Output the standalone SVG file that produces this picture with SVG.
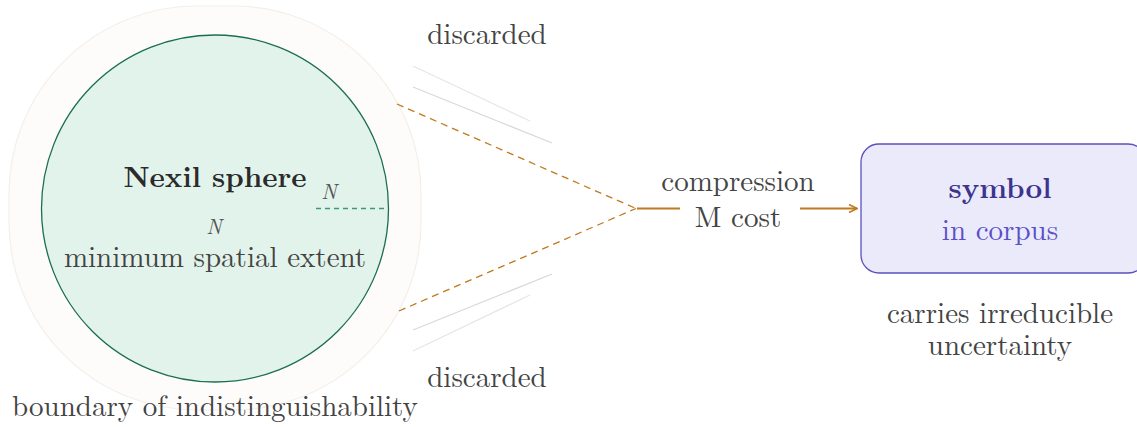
<svg xmlns="http://www.w3.org/2000/svg" width="1137" height="427" viewBox="0 0 1137 427">
  <defs>
    <marker id="arrow" viewBox="0 0 10 10" refX="9" refY="5" markerWidth="10" markerHeight="10" markerUnits="userSpaceOnUse" orient="auto">
      <path d="M1,1 L9,5 L1,9" fill="none" stroke="#c07a1e" stroke-width="1.6"/>
    </marker>
  </defs>
  <style>
    .lbl { font-size: 29px; fill: #444; }
    .ital { font-style: italic; font-size: 21px; fill: #555; }
    .faint { stroke: #d9d9d9; stroke-width: 1.3; fill: none; }
    .fainter { stroke: #e6e6e6; stroke-width: 1.3; fill: none; }
    .flow { stroke: #c07a1e; stroke-width: 1.3; fill: none; stroke-dasharray: 7 5; }
  </style>
  <rect width="1137" height="427" fill="#ffffff"/>

  <g font-family="Latin Modern Roman, Liberation Serif, serif">
    <!-- outer halo: region of indistinguishability -->
    <g id="halo">
      <rect x="9" y="6" width="412" height="404" rx="188" ry="188" fill="#fdfcfb" stroke="#f3efea" stroke-width="1.2"/>
      <text class="lbl" x="215" y="416" text-anchor="middle">boundary of indistinguishability</text>
    </g>

    <!-- core sphere -->
    <g id="sphere">
      <circle cx="215" cy="208.5" r="173.5" fill="#e2f3eb" stroke="#1a6e52" stroke-width="1.3"/>
      <text x="215" y="187" text-anchor="middle" font-size="29" font-weight="bold" fill="#2b2b2b">Nexil sphere</text>
      <line x1="316" y1="208.5" x2="387" y2="208.5" stroke="#3a9a78" stroke-width="1.3" stroke-dasharray="5 4"/>
      <text class="ital" x="329" y="199" text-anchor="middle">N</text>
      <text class="ital" x="214" y="234" text-anchor="middle">N</text>
      <text class="lbl" x="215" y="267" text-anchor="middle">minimum spatial extent</text>
    </g>

    <!-- discarded fragments -->
    <g id="discarded-top">
      <text class="lbl" x="487" y="44" text-anchor="middle">discarded</text>
      <line class="fainter" x1="413" y1="66" x2="530" y2="121"/>
      <line class="faint" x1="413" y1="87" x2="552" y2="143"/>
    </g>
    <g id="discarded-bottom">
      <text class="lbl" x="487" y="387" text-anchor="middle">discarded</text>
      <line class="faint" x1="413" y1="330" x2="552" y2="274"/>
      <line class="fainter" x1="413" y1="351" x2="530" y2="295"/>
    </g>

    <!-- compression connectors -->
    <g id="connectors">
      <line class="flow" x1="397" y1="104" x2="636" y2="208.5"/>
      <line class="flow" x1="399" y1="311" x2="636" y2="208.5"/>
      <line x1="637" y1="208.5" x2="680" y2="208.5" stroke="#c07a1e" stroke-width="2"/>
      <line x1="800" y1="208.5" x2="857" y2="208.5" stroke="#c07a1e" stroke-width="2" marker-end="url(#arrow)"/>
    </g>

    <g id="compression-label">
      <text class="lbl" x="738" y="191" text-anchor="middle">compression</text>
      <text class="lbl" x="738" y="227" text-anchor="middle">M cost</text>
    </g>

    <!-- symbol node -->
    <g id="symbol">
      <rect x="861" y="144" width="285" height="129" rx="18" ry="18" fill="#ebeafb" stroke="#5a50c0" stroke-width="1.3"/>
      <text x="1000" y="198" text-anchor="middle" font-size="29" font-weight="bold" fill="#3d348e">symbol</text>
      <text x="1000" y="240" text-anchor="middle" font-size="29" fill="#5a50c8">in corpus</text>
      <text class="lbl" x="1000" y="323" text-anchor="middle">carries irreducible</text>
      <text class="lbl" x="1000" y="355" text-anchor="middle">uncertainty</text>
    </g>
  </g>
</svg>
